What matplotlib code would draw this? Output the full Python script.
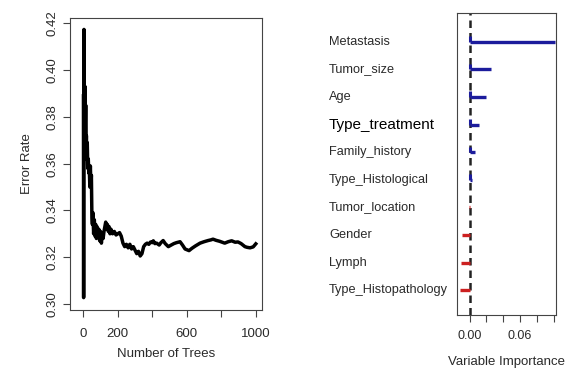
import numpy as np
import matplotlib
matplotlib.use("Agg")
import matplotlib.pyplot as plt

plt.rcParams['font.family'] = ['Liberation Sans', 'DejaVu Sans']

# Error rate vs number of trees
n_trees = [1, 2, 3, 4, 5, 7, 9, 10, 12, 14, 16, 18, 20, 23, 26, 29, 32, 35, 38, 41, 44,
           47, 50, 53, 56, 60, 64, 68, 72, 76, 80, 85, 90, 95, 100, 105, 110, 115, 120,
           125, 130, 135, 140, 145, 150, 155, 160, 170, 180, 190, 200, 210, 220, 230,
           240, 250, 260, 270, 280, 290, 300, 310, 320, 330, 340, 350, 360, 370, 380,
           390, 400, 406, 415, 425, 440, 450, 463, 475, 493, 510, 525, 540, 561, 575,
           590, 613, 630, 650, 677, 700, 723, 740, 752, 770, 790, 820, 840, 860, 880,
           897, 915, 937, 950, 967, 985, 1000]
error_rate = [0.389, 0.3027, 0.376, 0.4174, 0.372, 0.384, 0.366, 0.393, 0.372, 0.385,
              0.365, 0.372, 0.362, 0.369, 0.358, 0.362, 0.356, 0.358, 0.350, 0.359,
              0.351, 0.355, 0.337, 0.334, 0.339, 0.330, 0.336, 0.329, 0.334, 0.328,
              0.333, 0.329, 0.332, 0.327, 0.331, 0.326, 0.330, 0.328, 0.331, 0.333,
              0.335, 0.332, 0.334, 0.331, 0.333, 0.330, 0.332, 0.330, 0.331, 0.3295,
              0.330, 0.3305, 0.329, 0.326, 0.3245, 0.3255, 0.324, 0.3255, 0.3235,
              0.3245, 0.323, 0.3215, 0.3225, 0.3205, 0.3215, 0.3245, 0.3255, 0.326,
              0.3255, 0.3265, 0.3262, 0.327, 0.3258, 0.326, 0.3252, 0.3262, 0.3271,
              0.3258, 0.3245, 0.3252, 0.3258, 0.3262, 0.3266, 0.3252, 0.3235, 0.3228,
              0.3238, 0.3248, 0.326, 0.3266, 0.3271, 0.3274, 0.3277, 0.3272, 0.3268,
              0.326, 0.3266, 0.327, 0.3264, 0.3265, 0.3258, 0.3245, 0.3242, 0.324,
              0.3244, 0.3257]

# Variable importance
variables = ['Metastasis', 'Tumor_size', 'Age', 'Type_treatment', 'Family_history',
             'Type_Histological', 'Tumor_location', 'Gender', 'Lymph',
             'Type_Histopathology']
importance = [0.101, 0.0253, 0.0198, 0.0115, 0.006, 0.003, -0.0005, -0.009, -0.0098, -0.011]

text_col = '#2a2a2a'
fig = plt.figure(figsize=(5.65, 3.69), dpi=100)

# ---- left panel: error rate ----
ax1 = fig.add_axes([70 / 565, 59 / 369, 192 / 565, 292 / 369])
ax1.plot(n_trees, error_rate, color='black', lw=2.5)
ax1.set_xlim(-77, 1036)
ax1.set_ylim(0.2974, 0.4223)
ax1.set_xticks([0, 200, 400, 600, 800, 1000])
ax1.set_xticklabels(['0', '200', '', '600', '', '1000'])
ax1.set_yticks(np.arange(0.30, 0.4201, 0.02))
ax1.set_yticklabels([f'{v:.2f}' for v in np.arange(0.30, 0.4201, 0.02)],
                    rotation=90, va='center')
ax1.tick_params(axis='x', pad=8)
ax1.tick_params(axis='y', pad=3)
ax1.tick_params(direction='out', length=5, width=0.8, colors='#444444',
                labelcolor=text_col, labelsize=9.5)
for s in ax1.spines.values():
    s.set_color('#444444')
    s.set_linewidth(0.8)
ax1.set_ylabel('Error Rate', fontsize=9.5, color=text_col, labelpad=10)
ax1.set_xlabel('Number of Trees', fontsize=9.5, color=text_col, labelpad=6)

# ---- right panel: variable importance ----
ax2 = fig.add_axes([457 / 565, 54 / 369, 99 / 565, 302 / 369])
ypos = np.arange(len(variables), 0, -1)
for v, y in zip(importance, ypos):
    col = '#1c1c9c' if v > 0 else '#cc2020'
    ax2.plot([0, v], [y, y], color=col, lw=2.4, solid_capstyle='butt')
    if v > 0:
        ax2.plot([0, 0], [y, y + 0.2], color=col, lw=2.2, solid_capstyle='butt')
ax2.axvline(0, color='#222222', lw=1.8, ls=(0, (3, 2)), zorder=0)
ax2.set_xlim(-0.0149, 0.1026)
ax2.set_ylim(0.1, 11.04)
ax2.set_yticks([])
ax2.set_xticks([0, 0.02, 0.04, 0.06, 0.08, 0.10])
ax2.set_xticklabels(['0.00', '', '', '0.06', '', ''])
ax2.tick_params(direction='out', length=5, width=0.8, colors='#444444',
                labelcolor=text_col, labelsize=9, pad=6)
for s in ax2.spines.values():
    s.set_color('#444444')
    s.set_linewidth(0.8)
ax2.set_xlabel('Variable Importance', fontsize=9.5, color=text_col, labelpad=10)

label_tf = matplotlib.transforms.blended_transform_factory(fig.transFigure, ax2.transData)
for name, y in zip(variables, ypos):
    size = 11 if name == 'Type_treatment' else 9.2
    col = 'black' if name == 'Type_treatment' else text_col
    ax2.text(329 / 565, y, name, transform=label_tf, ha='left', va='center',
             fontsize=size, color=col)

fig.savefig('out.png', dpi=100)
